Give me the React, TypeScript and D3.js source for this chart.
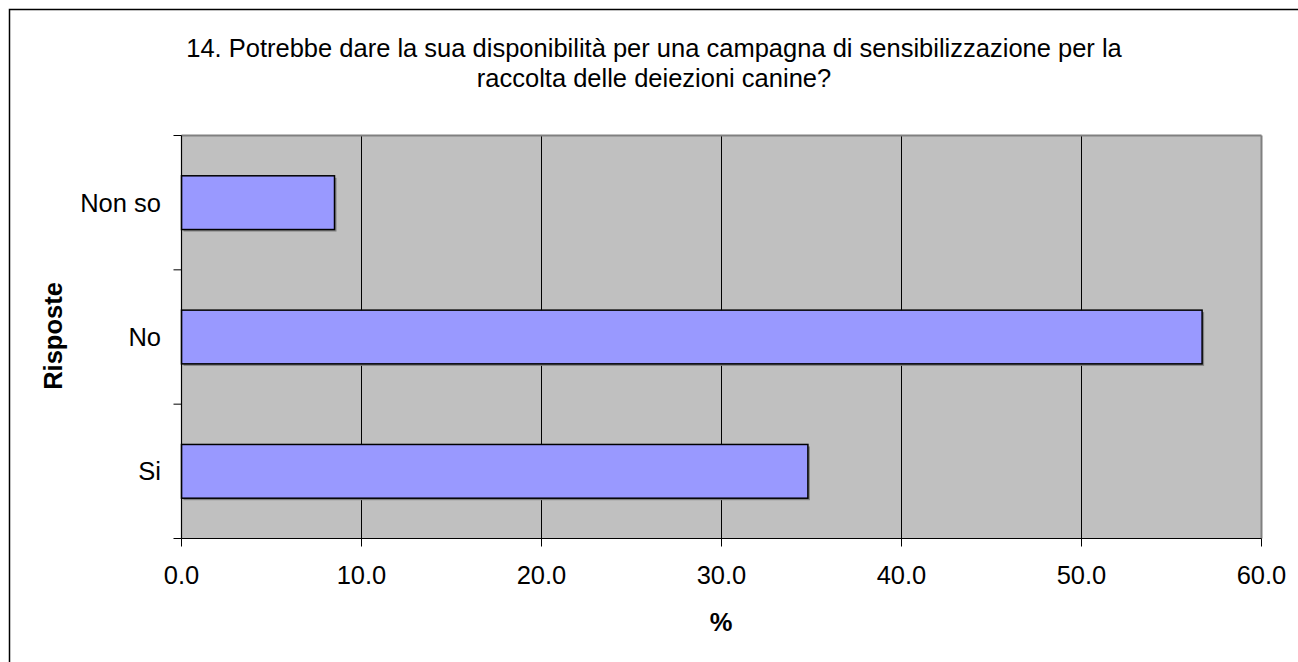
import React from "react";
import * as d3 from "d3";

const categories = ["Non so", "No", "Si"];
const values = [8.5, 56.7, 34.8];
const xTicks = [0, 10, 20, 30, 40, 50, 60];
const titleLines = [
  "14. Potrebbe dare la sua disponibilità per una campagna di sensibilizzazione per la",
  "raccolta delle deiezioni canine?",
];
const xAxisTitle = "%";
const yAxisTitle = "Risposte";

const W = 1298;
const H = 662;
const plot = { left: 181.5, top: 135.5, right: 1261.5, bottom: 538.5 };
const FONT = "'Liberation Sans', Arial, sans-serif";
const FS = 25.5;

export default function App() {
  const x = d3.scaleLinear().domain([0, 60]).range([plot.left, plot.right]);
  const y = d3
    .scaleBand<string>()
    .domain(categories)
    .range([plot.top, plot.bottom])
    .paddingInner(0.6)
    .paddingOuter(0.3);
  const band = d3.scaleBand<string>().domain(categories).range([plot.top, plot.bottom]);
  const boundaries = [plot.top, ...categories.map((c) => (band(c) as number) + band.bandwidth())];

  return (
    <svg
      width={W}
      height={H}
      style={{ position: "absolute", left: 0, top: 0, background: "#fff" }}
      fontFamily={FONT}
    >
      <rect x={9.5} y={9.5} width={1400} height={900} fill="#fff" stroke="#000" strokeWidth={1.5} />
      {titleLines.map((t, i) => (
        <text key={i} x={654} y={57 + i * 29.5} textAnchor="middle" fontSize={FS} fill="#000">
          {t}
        </text>
      ))}
      <rect
        x={plot.left}
        y={plot.top}
        width={plot.right - plot.left}
        height={plot.bottom - plot.top}
        fill="#c0c0c0"
      />
      {xTicks.slice(1, -1).map((t) => (
        <line key={t} x1={x(t)} x2={x(t)} y1={plot.top} y2={plot.bottom} stroke="#000" strokeWidth={1} />
      ))}
      <line x1={plot.left} x2={plot.right} y1={plot.top} y2={plot.top} stroke="#808080" strokeWidth={2} />
      <line x1={plot.right} x2={plot.right} y1={plot.top} y2={plot.bottom} stroke="#808080" strokeWidth={2} />
      {categories.map((c, i) => (
        <g key={c}>
          <rect
            x={x(0) + 2}
            y={(y(c) as number) + 2}
            width={x(values[i]) - x(0)}
            height={y.bandwidth()}
            fill="#808080"
          />
          <rect
            x={x(0)}
            y={y(c) as number}
            width={x(values[i]) - x(0)}
            height={y.bandwidth()}
            fill="#9999ff"
            stroke="#000"
            strokeWidth={1.5}
          />
          <text
            x={161}
            y={(band(c) as number) + band.bandwidth() / 2}
            textAnchor="end"
            dominantBaseline="central"
            fontSize={FS}
            fill="#000"
          >
            {c}
          </text>
        </g>
      ))}
      <line x1={plot.left} x2={plot.left} y1={plot.top} y2={plot.bottom} stroke="#000" strokeWidth={1.2} />
      <line x1={plot.left} x2={plot.right} y1={plot.bottom} y2={plot.bottom} stroke="#000" strokeWidth={1.2} />
      {boundaries.map((b, i) => (
        <line key={i} x1={plot.left - 8} x2={plot.left} y1={b} y2={b} stroke="#000" strokeWidth={1} />
      ))}
      {xTicks.map((t) => (
        <g key={t}>
          <line x1={x(t)} x2={x(t)} y1={plot.bottom} y2={plot.bottom + 8} stroke="#000" strokeWidth={1} />
          <text x={x(t)} y={584} textAnchor="middle" fontSize={FS} fill="#000">
            {t.toFixed(1)}
          </text>
        </g>
      ))}
      <text x={721} y={631} textAnchor="middle" fontSize={FS} fontWeight="bold" fill="#000">
        {xAxisTitle}
      </text>
      <text
        transform={`translate(62,336) rotate(-90)`}
        textAnchor="middle"
        fontSize={FS}
        fontWeight="bold"
        fill="#000"
      >
        {yAxisTitle}
      </text>
    </svg>
  );
}
